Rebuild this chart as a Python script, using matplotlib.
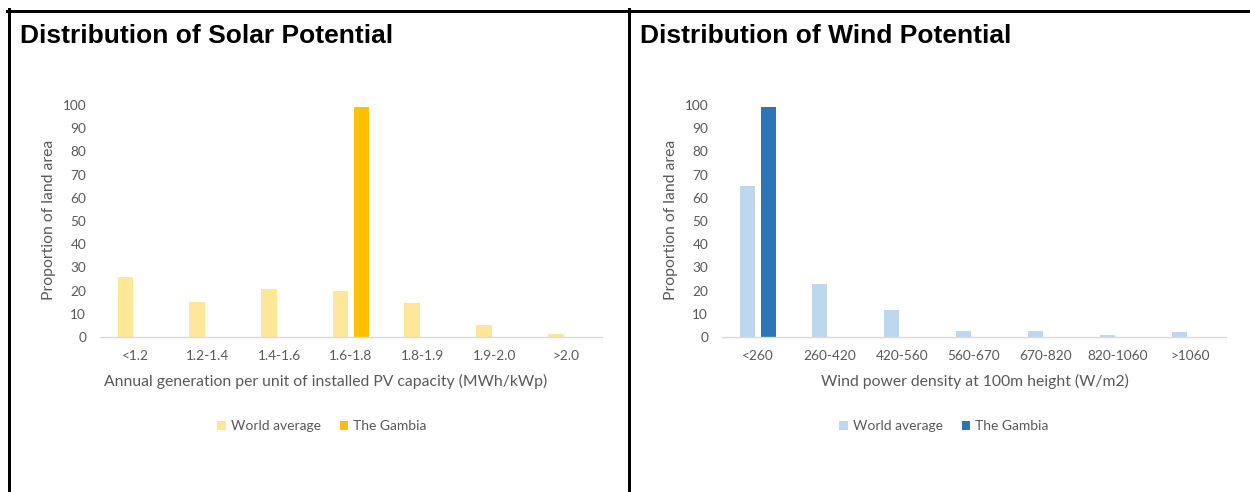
import matplotlib
matplotlib.use("Agg")
import matplotlib.pyplot as plt
from matplotlib.lines import Line2D
import numpy as np

solar_categories = ["<1.2", "1.2-1.4", "1.4-1.6", "1.6-1.8", "1.8-1.9", "1.9-2.0", ">2.0"]
solar_world = [26, 15, 20.5, 20, 14.5, 5, 1.5]
solar_gambia = [0, 0, 0, 99, 0, 0, 0]

wind_categories = ["<260", "260-420", "420-560", "560-670", "670-820", "820-1060", ">1060"]
wind_world = [65, 23, 11.5, 2.5, 2.5, 1, 2]
wind_gambia = [99, 0, 0, 0, 0, 0, 0]

yticks = [0, 10, 20, 30, 40, 50, 60, 70, 80, 90, 100]

W, H = 1250, 492
fig = plt.figure(figsize=(W / 100, H / 100), dpi=100)
fig.patch.set_facecolor("white")

TXT = "#595959"
FONT = "Lato"


def fx(px):
    return px / W


def fy(py):
    return 1 - py / H


def panel(left_px, right_px, cats, world, gambia, c_world, c_gambia, title, title_x,
          ylabel_x, xlabel, xlabel_cx, legend_cx):
    ax = fig.add_axes([fx(left_px), fy(337), fx(right_px - left_px), (337 - 105) / H])
    x = np.arange(len(cats))
    w = 0.22
    off = 0.145
    b1 = ax.bar(x - off, world, width=w, color=c_world, label="World average", zorder=2)
    b2 = ax.bar(x + off, gambia, width=w, color=c_gambia, label="The Gambia", zorder=2)
    ax.set_xlim(-0.5, len(cats) - 0.5)
    ax.set_ylim(0, 100)
    ax.set_yticks(yticks)
    ax.set_xticks(x)
    ax.set_xticklabels(cats)
    for s in ["top", "right", "left"]:
        ax.spines[s].set_visible(False)
    ax.spines["bottom"].set_color("#D9D9D9")
    ax.spines["bottom"].set_linewidth(1.0)
    ax.tick_params(axis="both", length=0, colors=TXT, labelsize=9.8)
    ax.tick_params(axis="y", pad=10)
    ax.tick_params(axis="x", pad=9)
    for lab in ax.get_xticklabels() + ax.get_yticklabels():
        lab.set_fontfamily(FONT)
    ax.set_facecolor("white")
    fig.text(fx(ylabel_x), fy(220), "Proportion of land area", rotation=90,
             ha="center", va="center", color=TXT, fontsize=11.3, fontfamily=FONT)
    fig.text(fx(xlabel_cx), fy(381), xlabel, ha="center", va="center",
             color=TXT, fontsize=11.3, fontfamily=FONT)
    fig.text(fx(title_x), fy(43), title, ha="left", va="baseline", fontsize=19,
             fontweight="bold", fontfamily="Liberation Sans", color="black")
    leg = fig.legend(handles=[b1, b2], loc="center", bbox_to_anchor=(fx(legend_cx), fy(426)),
                     ncol=2, frameon=False, handlelength=0.6, handleheight=0.6,
                     handletextpad=0.35, columnspacing=1.4,
                     prop={"family": FONT, "size": 10})
    for t in leg.get_texts():
        t.set_color(TXT)
    return ax


panel(100, 602, solar_categories, solar_world, solar_gambia, "#FFE699", "#FFC000",
      "Distribution of Solar Potential", 20, 49,
      "Annual generation per unit of installed PV capacity (MWh/kWp)", 326, 322)
panel(722, 1226, wind_categories, wind_world, wind_gambia, "#BDD7EE", "#2E75B6",
      "Distribution of Wind Potential", 640, 671,
      "Wind power density at 100m height (W/m2)", 975, 944)

# frame lines
lw = 3 * 72 / 100
fig.add_artist(Line2D([fx(7), 1], [fy(10.5), fy(10.5)], color="black", lw=lw))
fig.add_artist(Line2D([fx(8.5), fx(8.5)], [fy(9), 0], color="black", lw=lw))
fig.add_artist(Line2D([fx(628.5), fx(628.5)], [fy(9), 0], color="black", lw=lw))

fig.savefig("out.png", dpi=100, facecolor="white")
